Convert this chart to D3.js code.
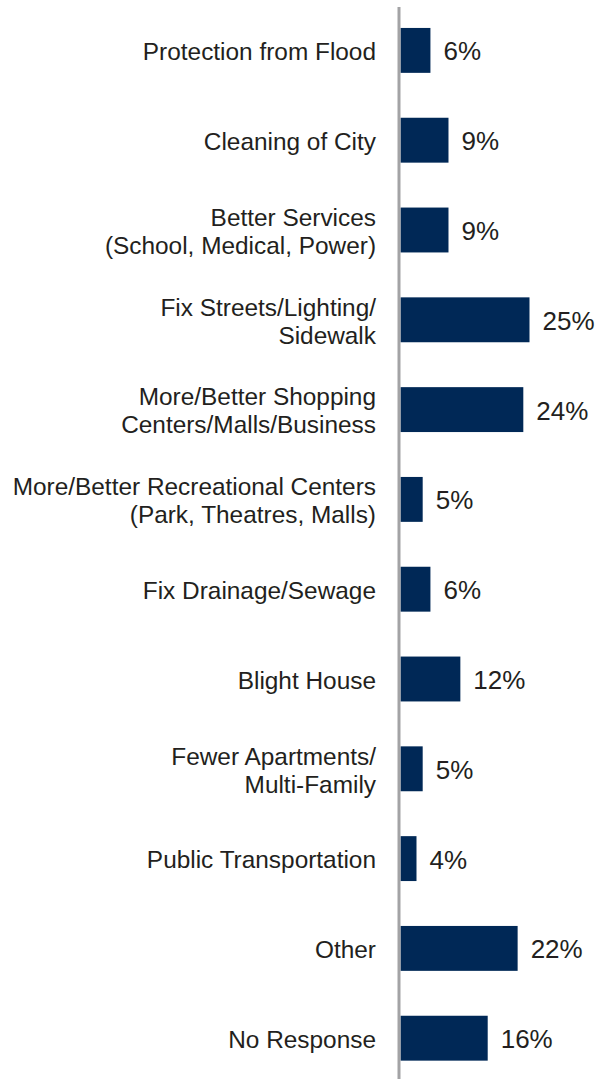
<!DOCTYPE html>
<html>
<head>
<meta charset="utf-8">
<script src="https://cdn.jsdelivr.net/npm/d3@7"></script>
<style>
  html, body { margin: 0; padding: 0; background: #ffffff; }
  svg { display: block; }
</style>
</head>
<body>
<svg id="chart" width="597" height="1079"></svg>
<script>
const categories = [
  "Protection from Flood",
  "Cleaning of City",
  "Better Services\n(School, Medical, Power)",
  "Fix Streets/Lighting/\nSidewalk",
  "More/Better Shopping\nCenters/Malls/Business",
  "More/Better Recreational Centers\n(Park, Theatres, Malls)",
  "Fix Drainage/Sewage",
  "Blight House",
  "Fewer Apartments/\nMulti-Family",
  "Public Transportation",
  "Other",
  "No Response"
];
const values = [5.8, 9.3, 9.3, 25.0, 23.8, 4.3, 5.8, 11.6, 4.3, 3.1, 22.7, 16.9];
const valueLabels = ["6%", "9%", "9%", "25%", "24%", "5%", "6%", "12%", "5%", "4%", "22%", "16%"];

const svg = d3.select("#chart");
const fontFamily = "'Liberation Sans', Arial, Helvetica, sans-serif";

const y = d3.scaleBand()
  .domain(d3.range(categories.length))
  .range([5.5, 5.5 + 12 * 89.8])
  .paddingInner(0.5)
  .paddingOuter(0.25);

const x = d3.scaleLinear()
  .domain([0, 25])
  .range([400.5, 529.5]);

// bars
svg.append("g").selectAll("rect")
  .data(values)
  .join("rect")
  .attr("x", x(0))
  .attr("y", (d, i) => y(i))
  .attr("width", d => x(d) - x(0))
  .attr("height", y.bandwidth())
  .attr("fill", "#002856");

// axis line
svg.append("line")
  .attr("x1", 399).attr("x2", 399)
  .attr("y1", 7).attr("y2", 1080)
  .attr("stroke", "#a3a3a5")
  .attr("stroke-width", 3);

// value labels
svg.append("g").selectAll("text")
  .data(values)
  .join("text")
  .attr("x", d => x(d) + 13)
  .attr("y", (d, i) => y(i) + y.bandwidth() / 2 + 10)
  .attr("font-family", fontFamily)
  .attr("font-size", 26)
  .attr("fill", "#231f20")
  .text((d, i) => valueLabels[i]);

// category labels
const lineH = 28;
const cat = svg.append("g").selectAll("text")
  .data(categories)
  .join("text")
  .attr("text-anchor", "end")
  .attr("font-family", fontFamily)
  .attr("font-size", 24.4)
  .attr("fill", "#231f20");

cat.each(function(d, i) {
  const lines = d.split("\n");
  const c = y(i) + y.bandwidth() / 2 + 1;
  const first = c - (lines.length - 1) * lineH / 2 + 8.8;
  d3.select(this).selectAll("tspan")
    .data(lines)
    .join("tspan")
    .attr("x", 376)
    .attr("y", (l, j) => first + j * lineH)
    .text(l => l);
});
</script>
</body>
</html>
